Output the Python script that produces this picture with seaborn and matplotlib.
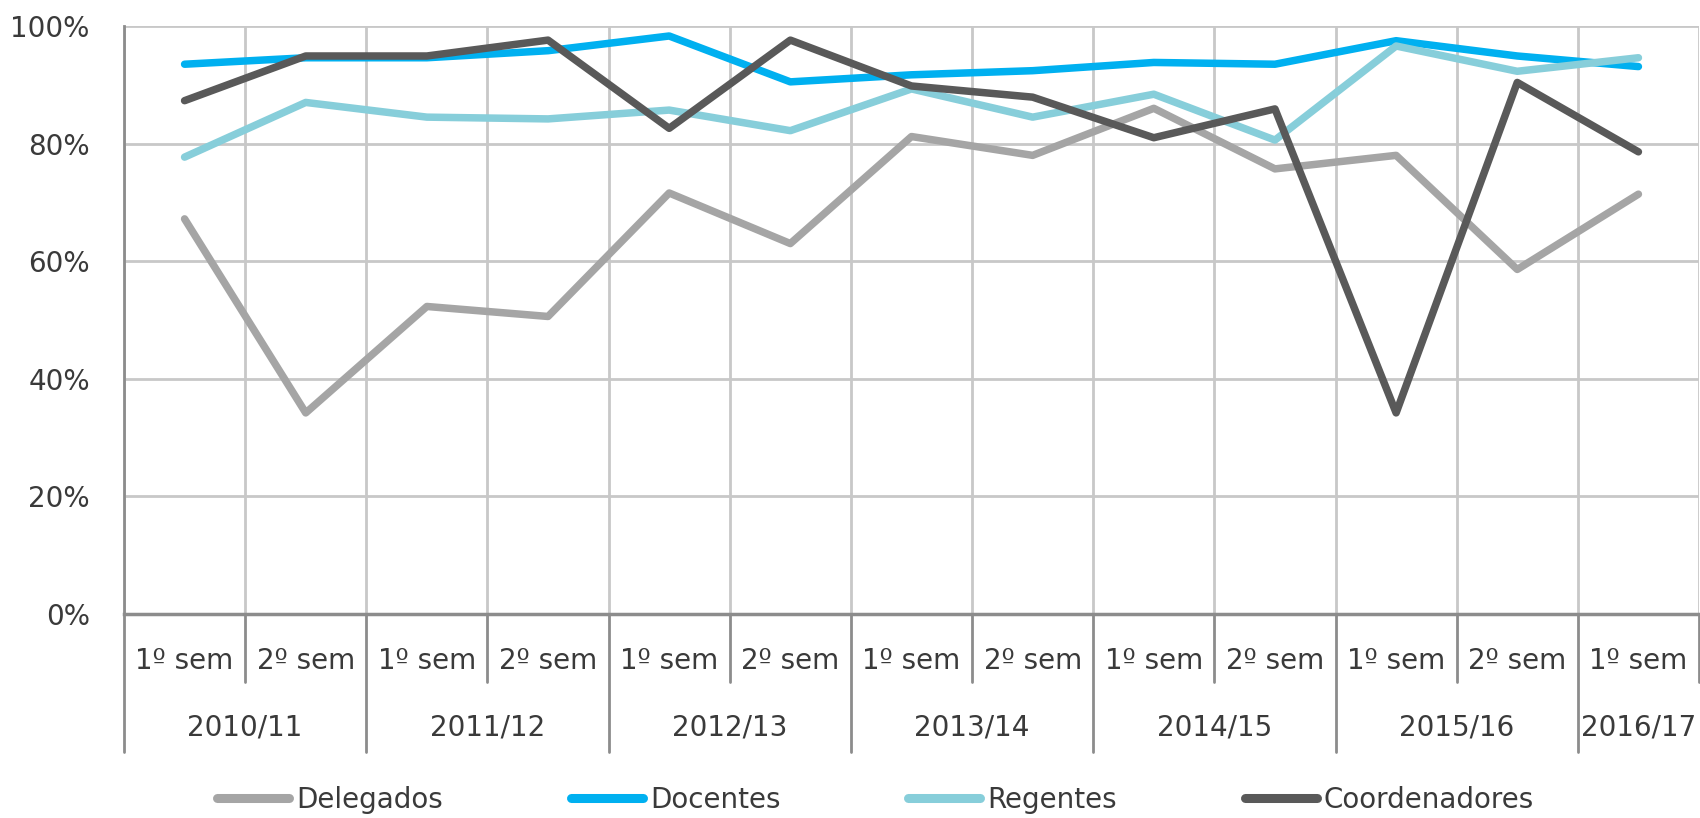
import numpy as np
import pandas as pd
import matplotlib
matplotlib.use("Agg")
import matplotlib.pyplot as plt
from matplotlib.lines import Line2D
import seaborn as sns

# dados (percentagem de resposta por semestre)
semestres = ["1º sem", "2º sem", "1º sem", "2º sem", "1º sem", "2º sem", "1º sem",
             "2º sem", "1º sem", "2º sem", "1º sem", "2º sem", "1º sem"]
anos = ["2010/11", "2011/12", "2012/13", "2013/14", "2014/15", "2015/16", "2016/17"]

delegados = [67.2, 34.2, 52.3, 50.6, 71.6, 63.0, 81.2, 78.0, 86.0, 75.7, 78.0, 58.6, 71.4]
docentes = [93.5, 94.6, 94.6, 95.8, 98.3, 90.5, 91.7, 92.4, 93.8, 93.5, 97.5, 94.9, 93.1]
regentes = [77.7, 87.0, 84.5, 84.2, 85.7, 82.2, 89.3, 84.5, 88.4, 80.6, 96.6, 92.3, 94.6]
coordenadores = [87.3, 94.9, 94.9, 97.6, 82.6, 97.6, 89.8, 87.9, 81.0, 85.9, 34.2, 90.4, 78.6]

grupos = ["Delegados", "Docentes", "Regentes", "Coordenadores"]
cores = {"Delegados": "#A5A5A5", "Docentes": "#00B0F0",
         "Regentes": "#87CEDA", "Coordenadores": "#595959"}

n = len(semestres)
pos = np.arange(n)
df = pd.concat([
    pd.DataFrame({"pos": pos, "valor": np.array(v) / 100, "grupo": g})
    for g, v in zip(grupos, [delegados, docentes, regentes, coordenadores])
])

sns.set_style("white")
plt.rcParams["font.family"] = ["DejaVu Sans"]
cor_texto = "#3A3A3A"
cor_eixo = "#8C8C8C"
cor_grelha = "#C8C8C8"

fig = plt.figure(figsize=(17, 8.18), dpi=100)
ax = fig.add_axes([124 / 1700, (818 - 614) / 818, (1699 - 124) / 1700, (614 - 26) / 818])

sns.lineplot(data=df, x="pos", y="valor", hue="grupo", hue_order=grupos, palette=cores,
             linewidth=5.4, sort=False, legend=False, ax=ax,
             solid_capstyle="round", solid_joinstyle="round")

ax.set_xlim(-0.5, n - 0.5)
ax.set_ylim(0, 1)
ax.set_xlabel("")
ax.set_ylabel("")

# eixo y
ax.set_yticks(np.arange(0, 1.01, 0.2))
ax.set_yticklabels([f"{int(round(t * 100))}%" for t in np.arange(0, 1.01, 0.2)])
ax.tick_params(axis="y", length=12 / 1.389, width=2, color=cor_eixo, pad=16,
               labelsize=20, labelcolor=cor_texto)
ax.grid(axis="y", color=cor_grelha, linewidth=2)

# eixo x: semestres
ax.set_xticks(pos)
ax.set_xticklabels(semestres)
ax.tick_params(axis="x", length=0, pad=24, labelsize=20, labelcolor=cor_texto)
ax.set_xticks(np.arange(-0.5, n, 1), minor=True)
ax.tick_params(axis="x", which="minor", length=0)
ax.grid(axis="x", which="minor", color=cor_grelha, linewidth=2)

for s in ["top", "right"]:
    ax.spines[s].set_visible(False)
ax.spines["left"].set_color(cor_eixo)
ax.spines["left"].set_linewidth(2)
ax.spines["bottom"].set_color(cor_eixo)
ax.spines["bottom"].set_linewidth(2.5)
ax.set_axisbelow(True)

# separadores e anos abaixo do eixo
trans = ax.get_xaxis_transform()
altura = 588
curto = -68 / altura
longo = -138 / altura
for i in range(n + 1):
    x = i - 0.5
    fim = longo if i % 2 == 0 else curto
    ax.plot([x, x], [0, fim], transform=trans, color=cor_eixo, lw=2, clip_on=False)
for j, ano in enumerate(anos):
    xc = min(2 * j + 0.5, n - 1)
    ax.text(xc, -113 / altura, ano, transform=trans, ha="center", va="center",
            fontsize=20, color=cor_texto)

# legenda
handles = [Line2D([0], [0], color=cores[g], lw=6.5, solid_capstyle="round") for g in grupos]
leg = fig.legend(handles, grupos, ncol=4, loc="center", bbox_to_anchor=(0.515, 0.022),
                 frameon=False, handlelength=2.6, handletextpad=0.25, columnspacing=4.6,
                 fontsize=20)
for t in leg.get_texts():
    t.set_color(cor_texto)

fig.savefig("out.png", dpi=100)
